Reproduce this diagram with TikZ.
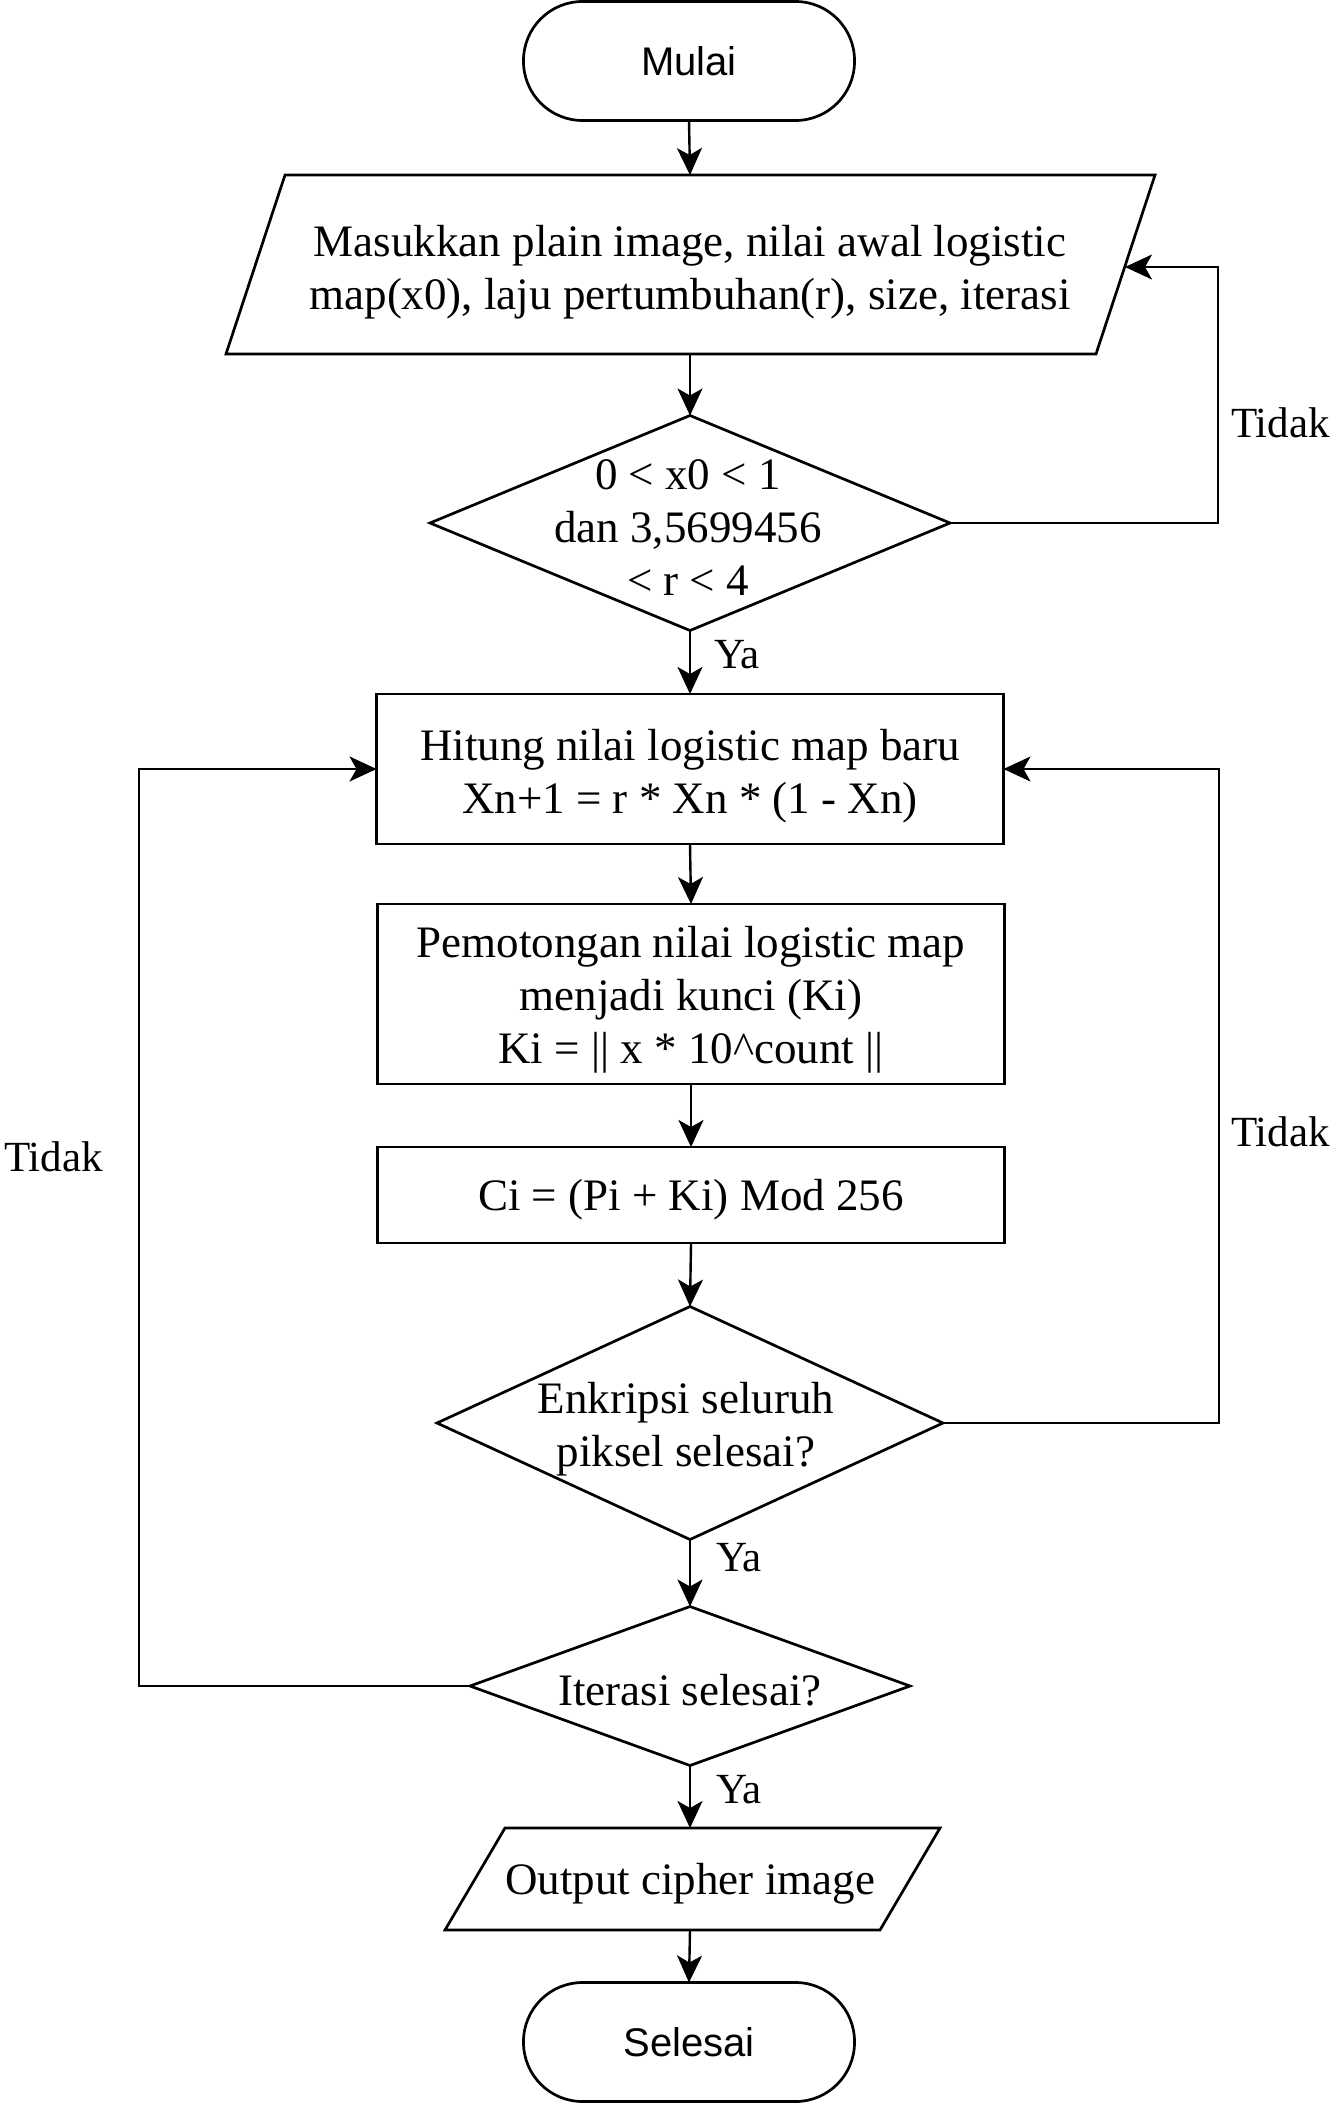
\documentclass[tikz,border=0pt]{standalone}
\usepackage{fontspec}
\setmainfont{Liberation Serif}
\newfontfamily\arialf{Liberation Sans}
\usetikzlibrary{shapes.geometric,arrows.meta}
\tikzset{
  every picture/.style={x=1pt,y=-1pt},
  ln/.style={line width=2.7pt,line join=miter},
  conn/.style={line width=2.4pt,-{Stealth[length=27pt,width=25pt,inset=7pt]}},
  txt/.style={inner sep=0pt,align=center,font=\fontsize{45}{53}\selectfont},
  lbl/.style={inner sep=0pt,anchor=west,font=\fontsize{43}{52}\selectfont},
  term/.style={ln,draw,rectangle,rounded corners=59pt,minimum width=331pt,minimum height=119pt,inner sep=0pt,outer sep=0pt,font=\arialf\fontsize{40}{48}\selectfont},
  proc/.style={ln,draw,rectangle,minimum width=627pt,inner sep=0pt,outer sep=0pt},
  dec/.style={ln,draw,diamond,inner sep=0pt,outer sep=0pt},
}
\begin{document}
\begin{tikzpicture}
\useasboundingbox (0,0) rectangle (1332,2106);
\fill[white] (0,0) rectangle (1332,2106);

% Start
\node[term] (mulai) at (689,61) {Mulai};

% Input parallelogram
\coordinate (p1a) at (285,175);
\coordinate (p1b) at (1155,175);
\coordinate (p1c) at (1096,354);
\coordinate (p1d) at (226,354);
\draw[ln] (p1a) -- (p1b) -- (p1c) -- (p1d) -- cycle;
\node[txt] (in1) at (690,272) {Masukkan plain image, nilai awal logistic\\map(x0), laju pertumbuhan(r), size, iterasi};
\coordinate (in1top) at (690,175);
\coordinate (in1bot) at (690,354);
\coordinate (in1right) at (1125,267);

% Decision 1
\node[dec,minimum width=520pt,minimum height=215pt] (d1) at (690,523) {};
\node[txt] (d1t) at (688,528) {0 < x0 < 1\\dan 3,5699456\\< r < 4};

% Process boxes
\node[proc,minimum height=150pt] (b1) at (690,769) {};
\node[txt] (b1t) at (690,776) {Hitung nilai logistic map baru\\Xn+1 = r * Xn * (1 - Xn)};
\node[proc,minimum height=180pt] (b2) at (691,994) {};
\node[txt] (b2t) at (691,1000) {Pemotongan nilai logistic map\\menjadi kunci (Ki)\\Ki = || x * 10\^{}count ||};
\node[proc,minimum height=96pt] (b3) at (691,1195) {};
\node[txt] (b3t) at (691,1200) {Ci = (Pi + Ki) Mod 256};

% Decision 2
\node[dec,minimum width=506pt,minimum height=233pt] (d2) at (690,1423) {};
\node[txt] (d2t) at (686,1429) {Enkripsi seluruh\\piksel selesai?};

% Decision 3
\node[dec,minimum width=440pt,minimum height=159pt] (d3) at (690,1686) {};
\node[txt] (d3t) at (690,1690) {Iterasi selesai?};

% Output parallelogram
\coordinate (p2a) at (505,1828);
\coordinate (p2b) at (940,1828);
\coordinate (p2c) at (880,1930);
\coordinate (p2d) at (445,1930);
\draw[ln] (p2a) -- (p2b) -- (p2c) -- (p2d) -- cycle;
\node[txt] (out) at (690,1884) {Output cipher image};
\coordinate (outtop) at (690,1828);
\coordinate (outbot) at (690,1930);

% End
\node[term] (selesai) at (689,2042) {Selesai};

% Connectors
\draw[conn] (mulai.south) -- (in1top);
\draw[conn] (in1bot) -- (d1.north);
\draw[conn] (d1.south) -- (b1.north);
\draw[conn] (d1.east) -- ++(268,0) coordinate (r1) |- (in1right);
\draw[conn] (b1.south) -- (b2.north);
\draw[conn] (b2.south) -- (b3.north);
\draw[conn] (b3.south) -- (d2.north);
\draw[conn] (d2.east) -- ++(276,0) coordinate (r2) |- (b1.east);
\draw[conn] (d2.south) -- (d3.north);
\draw[conn] (d3.west) -- ++(-331,0) coordinate (l3) |- (b1.west);
\draw[conn] (d3.south) -- (outtop);
\draw[conn] (outbot) -- (selesai.north);

% Labels
\node[lbl] (ya1) at (714,655) {Ya};
\node[lbl] (ya2) at (716,1558) {Ya};
\node[lbl] (ya3) at (716,1790) {Ya};
\node[lbl] (t1) at (1231,423) {Tidak};
\node[lbl] (t2) at (1231,1132) {Tidak};
\node[lbl] (t3) at (4,1157) {Tidak};
\end{tikzpicture}
\end{document}
